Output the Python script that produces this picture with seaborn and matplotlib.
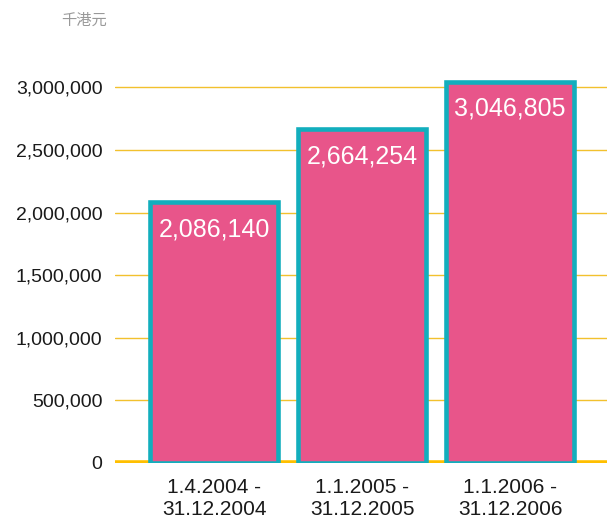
import matplotlib
matplotlib.use("Agg")
import matplotlib.pyplot as plt
import seaborn as sns

periods = ["1.4.2004 -\n31.12.2004", "1.1.2005 -\n31.12.2005", "1.1.2006 -\n31.12.2006"]
values = [2086140, 2664254, 3046805]
yticks = [0, 500000, 1000000, 1500000, 2000000, 2500000, 3000000]
unit = "千港元"

sns.set_theme(style="white")
plt.rcParams['font.family'] = ['Liberation Sans', 'Noto Sans CJK TC', 'DejaVu Sans']

fig = plt.figure(figsize=(6.07, 5.19), dpi=100)
ax = fig.add_axes([0.1895, 0.108, 0.8105, 0.796])

sns.barplot(x=periods, y=values, color="#E8558A", edgecolor="#12AEBD",
            linewidth=3.3, width=0.865, saturation=1, ax=ax, zorder=3)

ax.set_xlim(-0.669, 2.655)
ax.set_ylim(0, 3300000)
ax.set_yticks(yticks)
ax.set_yticklabels([f"{v:,}" for v in yticks], fontsize=14, color="#1a1a1a")
ax.tick_params(axis="x", labelsize=15, colors="#1a1a1a", length=0, pad=11)
ax.tick_params(axis="y", length=0, pad=9)
for lbl in ax.get_xticklabels():
    lbl.set_linespacing(1.2)

for y in yticks[1:]:
    ax.axhline(y, color="#F2C12E", linewidth=1, zorder=1)
ax.axhline(0, color="#FFBF00", linewidth=4, zorder=2)

for s in ax.spines.values():
    s.set_visible(False)
ax.set_xlabel("")
ax.set_ylabel("")

for i, v in enumerate(values):
    ax.annotate(f"{v:,}", xy=(i, v), xytext=(0, -11), textcoords="offset points",
                ha="center", va="top", color="white", fontsize=18, zorder=5)

fig.text(84 / 607, 1 - 20 / 519, unit, ha="center", va="center", fontsize=11,
         color="#999999", family=['Noto Sans CJK TC', 'DejaVu Sans'])

fig.savefig("out.png", dpi=100)
